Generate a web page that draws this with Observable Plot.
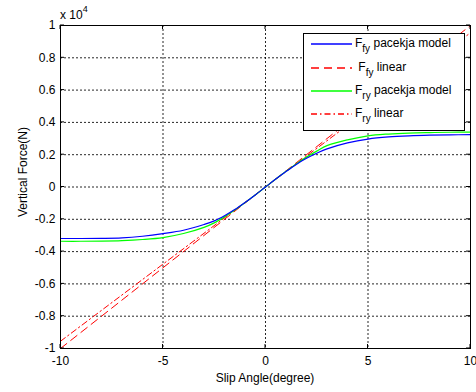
<!DOCTYPE html>
<html>
<head>
<meta charset="utf-8">
<script src="https://cdn.jsdelivr.net/npm/d3@7"></script>
<script src="https://cdn.jsdelivr.net/npm/@observablehq/plot@0.6"></script>
<style>
  html, body { margin: 0; padding: 0; background: #fff; }
  #chart { width: 476px; height: 392px; }
  svg { font-family: "Liberation Sans", Arial, sans-serif; }
</style>
</head>
<body>
<div id="chart"></div>
<script>
// ---- data (forces in N; axis shows ×10^4) ----
const slipAngle = [-10,-9,-8,-7,-6,-5,-4,-3,-2.5,-2,-1.5,-1,-0.5,0,0.5,1,1.5,2,2.5,3,4,5,6,7,8,9,10];
const ffyPacejka = [-3190,-3188,-3180,-3150,-3050,-2890,-2680,-2320,-2100,-1780,-1400,-960,-490,0,490,960,1400,1780,2090,2360,2730,2970,3100,3170,3210,3230,3240];
const fryPacejka = [-3360,-3360,-3350,-3320,-3250,-3130,-2880,-2500,-2220,-1850,-1430,-970,-490,0,490,970,1430,1850,2220,2560,2920,3170,3280,3340,3370,3390,3400];
const linearAngle = [-10, 10];
const ffyLinear = [-10000, 10000];
const fryLinear = [-9550, 9550];

const xTicks = [-10, -5, 0, 5, 10];
const yTicks = [-10000,-8000,-6000,-4000,-2000,0,2000,4000,6000,8000,10000];
const yTickLabels = ["-1","-0.8","-0.6","-0.4","-0.2","0","0.2","0.4","0.6","0.8","1"];

const seriesNames = ["Ffy pacekja model", "Ffy linear", "Fry pacekja model", "Fry linear"];
const legendMain = ["F", " F", "F", "F"];
const legendSub = ["fy", "fy", "ry", "ry"];
const legendRest = [" pacekja model", " linear", " pacekja model", " linear"];
const colors = ["#0000ff", "#ff0000", "#00ff00", "#ff0000"];
const dashes = [null, "8,5", null, "6,3,1.5,3"];

const curve = (xs, ys) => xs.map((x, i) => ({x, y: ys[i]}));
const pacFfy = curve(slipAngle, ffyPacejka);
const pacFry = curve(slipAngle, fryPacejka);
const linFfy = curve(linearAngle, ffyLinear);
const linFry = curve(linearAngle, fryLinear);

const W = 476, H = 392;
const plot = Plot.plot({
  width: W,
  height: H,
  marginLeft: 60,
  marginRight: 6,
  marginTop: 25,
  marginBottom: 44,
  style: {fontFamily: '"Liberation Sans", Arial, sans-serif', fontSize: "12px", color: "#000", background: "#fff"},
  x: {domain: [-10, 10], ticks: xTicks, label: null},
  y: {domain: [-10000, 10000], ticks: yTicks, label: null},
  marks: [
    Plot.gridX(xTicks, {stroke: "#000", strokeOpacity: 0.85, strokeDasharray: "2,2", strokeWidth: 1}),
    Plot.gridY(yTicks, {stroke: "#000", strokeOpacity: 0.85, strokeDasharray: "2,2", strokeWidth: 1}),
    Plot.axisX(xTicks, {anchor: "bottom", tickSize: 0, tickPadding: 8, fontSize: 12, tickFormat: d => String(d), label: null}),
    Plot.axisY(yTicks, {anchor: "left", tickSize: 0, tickPadding: 5, fontSize: 12, tickFormat: (d) => yTickLabels[yTicks.indexOf(d)], label: null}),
    Plot.line(linFfy, {x: "x", y: "y", stroke: colors[1], strokeWidth: 1, strokeDasharray: dashes[1]}),
    Plot.line(linFry, {x: "x", y: "y", stroke: colors[3], strokeWidth: 1, strokeDasharray: dashes[3]}),
    Plot.line(pacFry, {x: "x", y: "y", stroke: colors[2], strokeWidth: 1.2, curve: "catmull-rom"}),
    Plot.line(pacFfy, {x: "x", y: "y", stroke: colors[0], strokeWidth: 1.2, curve: "catmull-rom"}),
    Plot.frame({stroke: "#000", strokeWidth: 1})
  ]
});

document.getElementById("chart").appendChild(plot);

const svg = d3.select(plot);
const sx = plot.scale("x");
const sy = plot.scale("y");
const x0 = sx.apply(-10), x1 = sx.apply(10);
const y0 = sy.apply(10000), y1 = sy.apply(-10000);
const tl = 4;
const ticks = svg.append("g").attr("stroke", "#000").attr("stroke-width", 1);
xTicks.forEach(t => {
  const px = sx.apply(t);
  ticks.append("line").attr("x1", px).attr("x2", px).attr("y1", y1).attr("y2", y1 - tl);
  ticks.append("line").attr("x1", px).attr("x2", px).attr("y1", y0).attr("y2", y0 + tl);
});
yTicks.forEach(t => {
  const py = sy.apply(t);
  ticks.append("line").attr("x1", x0).attr("x2", x0 + tl).attr("y1", py).attr("y2", py);
  ticks.append("line").attr("x1", x1).attr("x2", x1 - tl).attr("y1", py).attr("y2", py);
});

// axis labels
svg.append("text").attr("x", (x0 + x1) / 2).attr("y", 382).attr("text-anchor", "middle")
  .attr("font-size", 12).attr("fill", "#000").text("Slip Angle(degree)");
svg.append("text").attr("transform", "translate(27,172) rotate(-90)").attr("text-anchor", "middle")
  .attr("font-size", 12).attr("fill", "#000").text("Vertical Force(N)");

// exponent
const ex = svg.append("text").attr("x", x0).attr("y", 19).attr("text-anchor", "start")
  .attr("font-size", 12).attr("fill", "#000");
ex.append("tspan").text("x 10");
ex.append("tspan").attr("font-size", 9).attr("dy", -7).text("4");

// legend
const lg = svg.append("g").attr("text-anchor", "start");
const bx = 303.5, by = 33.5, bw = 161, bh = 97;
lg.append("rect").attr("x", bx).attr("y", by).attr("width", bw).attr("height", bh)
  .attr("fill", "#fff").attr("stroke", "#000").attr("stroke-width", 1);
const rowY = [44, 68, 91, 114];
seriesNames.forEach((name, i) => {
  const ry = rowY[i];
  const ln = lg.append("line").attr("x1", 311).attr("x2", 352).attr("y1", ry).attr("y2", ry)
    .attr("stroke", colors[i]).attr("stroke-width", 1.5);
  if (dashes[i]) ln.attr("stroke-dasharray", dashes[i]);
  const t = lg.append("text").attr("x", 355).attr("y", ry + 3).attr("text-anchor", "start")
    .attr("font-size", 12).attr("fill", "#000").style("white-space", "pre");
  t.append("tspan").text(legendMain[i]);
  t.append("tspan").attr("font-size", 10).attr("dy", 5).text(legendSub[i]);
  t.append("tspan").attr("dy", -5).text(legendRest[i]);
});
</script>
</body>
</html>
